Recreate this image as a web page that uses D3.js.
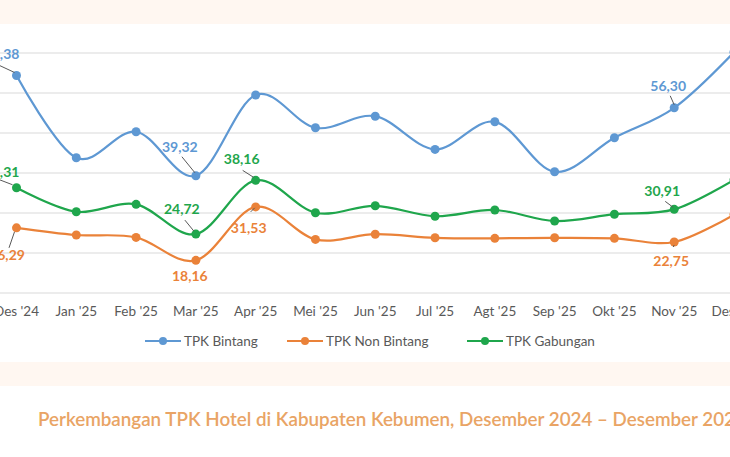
<!DOCTYPE html>
<html lang="id">

<head>
    <meta charset="UTF-8">
    <title>TPK Hotel Kebumen</title>
    <script src="https://cdn.jsdelivr.net/npm/d3@7"></script>
    <style>
        html, body {
            margin: 0;
            padding: 0;
            background: #ffffff;
            overflow: hidden;
        }

        .tick_label {
            font-family: Lato, sans-serif;
            font-size: 13.5px;
            fill: #595959;
        }

        .value_label {
            font-family: Lato, sans-serif;
            font-size: 14px;
            font-weight: 700;
        }

        .title {
            font-family: Lato, sans-serif;
            font-size: 18.8px;
            font-weight: 600;
            fill: #E9A465;
        }
    </style>
</head>

<body>
    <svg width="730" height="457"></svg>

    <script>
        // data
        const months = ["Des '24", "Jan '25", "Feb '25", "Mar '25", "Apr '25", "Mei '25", "Jun '25",
            "Jul '25", "Agt '25", "Sep '25", "Okt '25", "Nov '25", "Des '25"];
        const bintang = [64.38, 43.82, 50.32, 39.32, 59.50, 51.30, 54.20, 45.90, 52.80, 40.30, 48.80, 56.30, 70.20];
        const nonBintang = [26.29, 24.50, 23.90, 18.16, 31.53, 23.40, 24.70, 23.80, 23.67, 23.80, 23.67, 22.75, 29.60];
        const gabungan = [36.31, 30.32, 32.17, 24.72, 38.16, 30.07, 31.80, 29.20, 30.75, 28.00, 29.70, 30.91, 38.30];
        const yTicks = [10, 20, 30, 40, 50, 60, 70];
        const seriesNames = ["TPK Bintang", "TPK Non Bintang", "TPK Gabungan"];
        const titleText = "Perkembangan TPK Hotel di Kabupaten Kebumen, Desember 2024 \u2013 Desember 2025";

        const colors = ["#5E98D3", "#EA8239", "#1FA64C"];
        const series = [bintang, nonBintang, gabungan];

        // which points carry a label, and where it sits relative to the point
        const labelSpots = [
            [{ i: 0, dx: -15, dy: -22, lead: [-17, -10, -2, -3] },
             { i: 3, dx: -16, dy: -29, lead: [-14, -19, -1, -3] },
             { i: 11, dx: -6, dy: -22, lead: [-4, -12, 0, -3] }],
            [{ i: 0, dx: -9.5, dy: 27, lead: [-7.5, 20, -2, 4] },
             { i: 3, dx: -6, dy: 16, lead: null },
             { i: 4, dx: -7, dy: 21, lead: [-5, 5, -1, 1] },
             { i: 11, dx: -3, dy: 19, lead: [-1, 5, 0, 3] }],
            [{ i: 0, dx: -15, dy: -16, lead: [-17, -8, -4, -3] },
             { i: 3, dx: -14, dy: -25, lead: [-11, -14, -2, -3] },
             { i: 4, dx: -14, dy: -21, lead: [-13, -10, -2, -3] },
             { i: 11, dx: -12, dy: -18, lead: [-9, -8, -1, -2] }]
        ];

        const svg = d3.select("svg");

        // page bands behind the chart
        svg.append("rect").attr("x", 0).attr("y", 0).attr("width", 730).attr("height", 24).attr("fill", "#FFF7F1");
        svg.append("rect").attr("x", 0).attr("y", 362).attr("width", 730).attr("height", 24).attr("fill", "#FFF7F1");

        const x = d3.scalePoint()
            .domain(months)
            .range([16.5, 734]);

        const y = d3.scaleLinear()
            .domain([10, 70])
            .range([293, 53]);

        // gridlines
        svg.append("g")
            .selectAll("line")
            .data(yTicks)
            .enter()
            .append("line")
            .attr("x1", 0)
            .attr("x2", 730)
            .attr("y1", d => y(d))
            .attr("y2", d => y(d))
            .attr("stroke", "#DADADA")
            .attr("stroke-width", 1.2);

        // month labels
        svg.append("g")
            .selectAll("text")
            .data(months)
            .enter()
            .append("text")
            .attr("class", "tick_label")
            .attr("x", d => x(d))
            .attr("y", 311)
            .attr("dy", "0.35em")
            .attr("text-anchor", "middle")
            .text(d => d);

        const line = d3.line()
            .x((d, i) => x(months[i]))
            .y(d => y(d))
            .curve(d3.curveCardinal.tension(0));

        const fmt = v => v.toFixed(2).replace(".", ",");

        series.forEach(function (values, s) {
            const g = svg.append("g");

            g.append("path")
                .datum(values)
                .attr("d", line)
                .attr("fill", "none")
                .attr("stroke", colors[s])
                .attr("stroke-width", 2.2);

            g.selectAll("circle")
                .data(values)
                .enter()
                .append("circle")
                .attr("cx", (d, i) => x(months[i]))
                .attr("cy", d => y(d))
                .attr("r", 4.5)
                .attr("fill", colors[s]);

            labelSpots[s].forEach(function (spot) {
                const px = x(months[spot.i]);
                const py = y(values[spot.i]);
                if (spot.lead) {
                    g.append("line")
                        .attr("x1", px + spot.lead[0])
                        .attr("y1", py + spot.lead[1])
                        .attr("x2", px + spot.lead[2])
                        .attr("y2", py + spot.lead[3])
                        .attr("stroke", "#595959")
                        .attr("stroke-width", 1);
                }
                g.append("text")
                    .attr("class", "value_label")
                    .attr("x", px + spot.dx)
                    .attr("y", py + spot.dy)
                    .attr("dy", "0.36em")
                    .attr("text-anchor", "middle")
                    .attr("fill", colors[s])
                    .text(fmt(values[spot.i]));
            });
        });

        // legend
        const legendX = [145, 287, 467];
        const legend = svg.append("g");
        seriesNames.forEach(function (name, s) {
            const lx = legendX[s];
            legend.append("line")
                .attr("x1", lx).attr("x2", lx + 36)
                .attr("y1", 341).attr("y2", 341)
                .attr("stroke", colors[s])
                .attr("stroke-width", 2.2);
            legend.append("circle")
                .attr("cx", lx + 18).attr("cy", 341)
                .attr("r", 4)
                .attr("fill", colors[s]);
            legend.append("text")
                .attr("class", "tick_label")
                .attr("x", lx + 39)
                .attr("y", 341)
                .attr("dy", "0.35em")
                .text(name);
        });

        // caption
        svg.append("text")
            .attr("class", "title")
            .attr("x", 38)
            .attr("y", 426)
            .text(titleText);
    </script>
</body>

</html>
